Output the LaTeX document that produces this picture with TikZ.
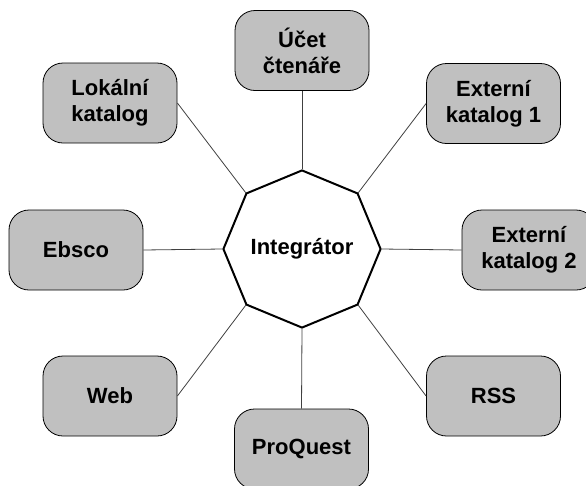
\documentclass[tikz,border=0pt]{standalone}
\usepackage{fontspec}
\setmainfont{Liberation Sans}
\usetikzlibrary{shapes.geometric}
\definecolor{boxgray}{RGB}{192,192,192}
\tikzset{
  srcbox/.style={draw=black, line width=0.8pt, fill=boxgray, rounded corners=20pt,
    minimum width=134pt, minimum height=80pt, align=center, inner sep=2pt,
    font=\bfseries\fontsize{22}{26}\selectfont},
  hub/.style={draw=black, line width=2pt, fill=white, regular polygon, regular polygon sides=8,
    shape border rotate=22.5, minimum size=150pt, inner sep=0pt,
    font=\bfseries\fontsize{22}{26}\selectfont},
  link/.style={draw=black!75, line width=0.8pt}
}
\begin{document}
\begin{tikzpicture}[x=1pt,y=-1pt]
\useasboundingbox (0,0) rectangle (586,485);
\node[hub] (oct) at (302,249) {Integrátor};
\node[srcbox] (ucet) at (302,50.5) {Účet\\čtenáře};
\node[srcbox] (lok) at (110,103) {Lokální\\katalog};
\node[srcbox] (ext1) at (493.5,103.5) {Externí\\katalog 1};
\node[srcbox] (ebsco) at (76,250) {Ebsco};
\node[srcbox] (ext2) at (529,250) {Externí\\katalog 2};
\node[srcbox] (web) at (110,396) {Web};
\node[srcbox] (rss) at (493.5,396) {RSS};
\node[srcbox] (pro) at (301.5,449) {ProQuest};
\draw[link] (ucet.south) -- (oct.90);
\draw[link] (lok.east) -- (oct.135);
\draw[link] (ext1.west) -- (oct.45);
\draw[link] (ebsco.east) -- (oct.180);
\draw[link] (ext2.west) -- (oct.0);
\draw[link] (web.east) -- (oct.225);
\draw[link] (rss.west) -- (oct.315);
\draw[link] (pro.north) -- (oct.270);
\end{tikzpicture}
\end{document}
